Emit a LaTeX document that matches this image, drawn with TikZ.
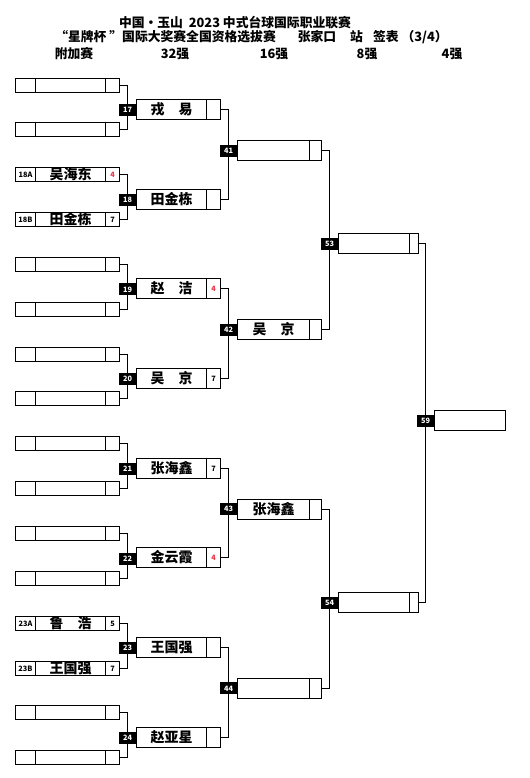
\documentclass[tikz,border=0pt]{standalone}
\usepackage{fontspec}
\setmainfont{Noto Sans CJK SC}
\usepackage{xcolor}
\definecolor{scorered}{RGB}{235,50,70}

\tikzset{
  cell/.style={draw, line width=0.75pt, inner sep=0pt},
  tagcell/.style={cell, minimum width=15pt, minimum height=10.5pt, font=\fontsize{5.5}{6}\selectfont\bfseries},
  namecell/.style={cell, minimum height=10.5pt, font=\fontsize{10.5}{11}\selectfont\bfseries},
  scorecell/.style={cell, minimum height=10.5pt, font=\fontsize{5.5}{6}\selectfont\bfseries},
  matchno/.style={fill=black, text=white, inner sep=0pt, minimum width=12.75pt, minimum height=9pt, font=\fontsize{5.5}{6}\selectfont\bfseries},
  link/.style={line width=0.75pt},
  headline/.style={font=\fontsize{9.6}{10}\selectfont\bfseries}
}

\begin{document}
\begin{tikzpicture}[x=0.75pt, y=-0.75pt]
    \useasboundingbox (0,0) rectangle (530,778);

    % title and column heads
    \node[headline] (title1) at (235,23) {中国·玉山\ \ 2023 中式台球国际职业联赛};
    \node[headline] (title2) at (251.5,37) {“星牌杯 ”国际大奖赛全国资格选拔赛\hspace{16.5pt}张家口\hspace{10.5pt}站\hspace{7.5pt}签表 （3/4）};
    \node[headline] (col1) at (74,54) {附加赛};
    \node[headline] (col2) at (175,54) {32强};
    \node[headline] (col3) at (274,54) {16强};
    \node[headline] (col4) at (367,54) {8强};
    \node[headline] (col5) at (452,54) {4强};

    % 附加赛
    \foreach \i/\tg/\nm/\sc/\col in {0/{}/{}/{}/black, 1/{}/{}/{}/black,
        2/18A/吴海东/4/scorered, 3/18B/田金栋/7/black,
        4/{}/{}/{}/black, 5/{}/{}/{}/black, 6/{}/{}/{}/black, 7/{}/{}/{}/black,
        8/{}/{}/{}/black, 9/{}/{}/{}/black, 10/{}/{}/{}/black, 11/{}/{}/{}/black,
        12/23A/鲁\hspace{1em}浩/5/black, 13/23B/王国强/7/black,
        14/{}/{}/{}/black, 15/{}/{}/{}/black} {
      \node[tagcell] (t\i) at (25.5,{floor(85+44.85*\i)+0.5}) {\tg};
      \node[namecell, minimum width=52.5pt] (p\i) at (70.5,{floor(85+44.85*\i)+0.5}) {\nm};
      \node[scorecell, minimum width=10.5pt, text=\col] (s\i) at (112.5,{floor(85+44.85*\i)+0.5}) {\sc};
    }

    % 32强
    \foreach \k/\m/\nm/\sc/\col
        [evaluate=\k as \a using int(2*\k), evaluate=\k as \b using int(2*\k+1)]
        in {0/17/戎\hspace{1em}易/{}/black, 1/18/田金栋/{}/black,
        2/19/赵\hspace{1em}洁/4/scorered, 3/20/吴\hspace{1em}京/7/black,
        4/21/张海鑫/7/black, 5/22/金云霞/4/scorered,
        6/23/王国强/{}/black, 7/24/赵亚星/{}/black} {
      \node[namecell, minimum width=52.5pt, minimum height=15pt] (q\k) at (171.5,{floor(109.5+89.7*\k)+0.5}) {\nm};
      \node[scorecell, minimum width=10.5pt, minimum height=15pt, text=\col] (r\k) at (213.5,{floor(109.5+89.7*\k)+0.5}) {\sc};
      \coordinate (v\k) at (127.5,{110+89.7*\k});
      \draw[link] (s\a.east) -| (v\k) |- (s\b.east);
      \node[matchno] (m\m) at (v\k) {\m};
    }

    % 16强
    \foreach \j/\m/\nm
        [evaluate=\j as \a using int(2*\j), evaluate=\j as \b using int(2*\j+1)]
        in {0/41/{}, 1/42/吴\hspace{1em}京, 2/43/张海鑫, 3/44/{}} {
      \node[namecell, minimum width=54pt, minimum height=15pt] (u\j) at (273.5,{floor(150.5+179.33*\j)+0.5}) {\nm};
      \node[scorecell, minimum width=9pt, minimum height=15pt] (x\j) at (315.5,{floor(150.5+179.33*\j)+0.5}) {};
      \coordinate (w\j) at (228.5,{150.5+179.33*\j});
      \draw[link] (r\a.east) -| (w\j) |- (r\b.east);
      \node[matchno] (m\m) at (w\j) {\m};
    }

    % 8强
    \foreach \n/\m
        [evaluate=\n as \a using int(2*\n), evaluate=\n as \b using int(2*\n+1)]
        in {0/53, 1/54} {
      \node[namecell, minimum width=53.25pt, minimum height=15pt] (g\n) at (374,{243.5+359*\n}) {};
      \node[scorecell, minimum width=6.75pt, minimum height=15pt] (h\n) at (414,{243.5+359*\n}) {};
      \coordinate (z\n) at (329.5,{243.5+359*\n});
      \draw[link] (x\a.east) -| (z\n) |- (x\b.east);
      \node[matchno] (m\m) at (z\n) {\m};
    }

    % 4强
    \node[namecell, minimum width=53.25pt, minimum height=15pt] (final) at (470,420.5) {};
    \coordinate (f) at (425.5,420.5);
    \draw[link] (h0.east) -| (f) |- (h1.east);
    \node[matchno] (m59) at (f) {59};
\end{tikzpicture}
\end{document}
